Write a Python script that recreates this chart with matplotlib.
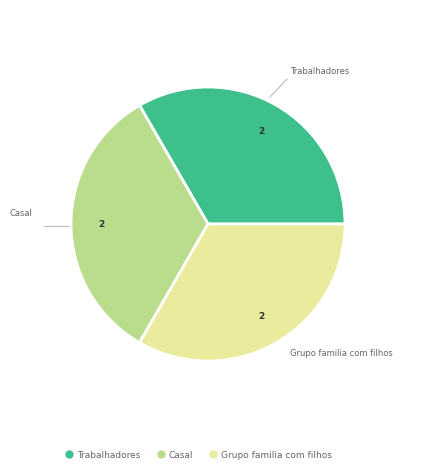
import matplotlib
matplotlib.use("Agg")
import matplotlib.pyplot as plt
from matplotlib.lines import Line2D
import numpy as np

# dados
categorias = ["Trabalhadores", "Casal", "Grupo familia com filhos"]
valores = [2, 2, 2]
cores = ["#3dc08c", "#b9dd8c", "#ebeb9e"]

plt.rcParams['font.family'] = ['DejaVu Sans']

fig = plt.figure(figsize=(4.4, 4.65), dpi=100)
ax = fig.add_axes([0.0, 0.0, 1.0, 1.0])
ax.set_xlim(0, 440)
ax.set_ylim(465, 0)
ax.axis('off')

# pizza numa caixa de eixos propria
pax = fig.add_axes([71 / 440, 1 - 361 / 465, 274 / 440, 274 / 465])
wedges, _ = pax.pie(valores, colors=cores, startangle=0, counterclock=True,
                    wedgeprops=dict(edgecolor="white", linewidth=2))
pax.set_xlim(-1, 1)
pax.set_ylim(-1, 1)
pax.set_aspect('equal')

# valores dentro das fatias
for w, v in zip(wedges, valores):
    mid = np.deg2rad((w.theta1 + w.theta2) / 2)
    pax.text(0.78 * np.cos(mid), 0.78 * np.sin(mid), str(v), ha='center', va='center',
             fontsize=6.5, fontweight='bold', color='#333333')

# rotulos externos com linha guia
ax.plot([270, 287], [97, 79], color='#bbbbbb', lw=0.8)
ax.text(290, 71, categorias[0], fontsize=6, color='#666666', va='center')
ax.plot([44, 70], [226, 226], color='#bbbbbb', lw=0.8)
ax.text(10, 213, categorias[1], fontsize=6, color='#666666', va='center')
ax.plot([300, 303], [345, 348], color='#eeeeee', lw=0.6)
ax.text(290, 353, categorias[2], fontsize=6, color='#666666', va='center')

# legenda
handles = [Line2D([0], [0], marker='o', color='w', markerfacecolor=c, markersize=7)
           for c in cores]
fig.legend(handles, categorias, loc='center', bbox_to_anchor=(0.45, 1 - 455 / 465),
           ncol=3, frameon=False, fontsize=6.5, handletextpad=0.3, columnspacing=1.6,
           labelcolor='#666666', handlelength=1.2)

fig.savefig("out.png", dpi=100)
